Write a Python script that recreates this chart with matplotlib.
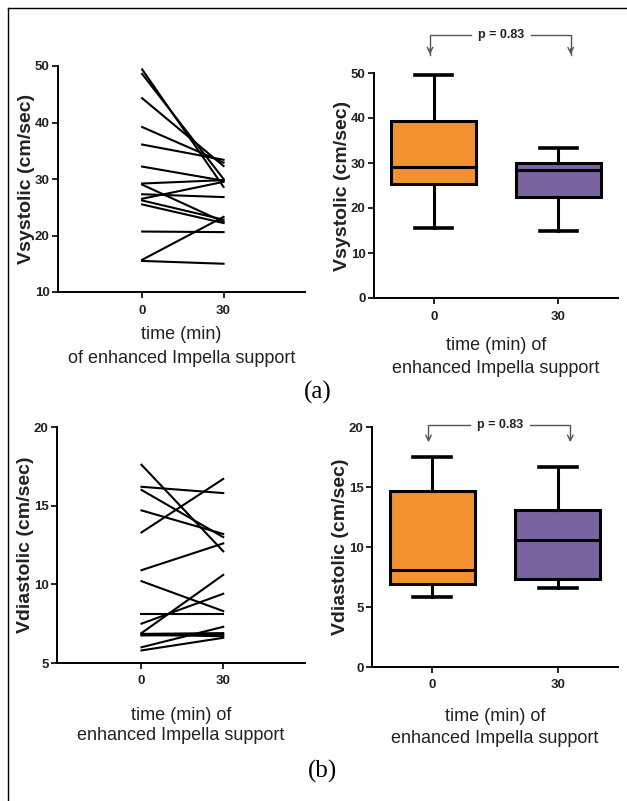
import matplotlib
matplotlib.use("Agg")
import matplotlib.pyplot as plt
from matplotlib.lines import Line2D

# paired values (0 min -> 30 min)
sys_0 = [49.4, 48.6, 44.3, 39.2, 36.1, 32.2, 29.2, 29.0, 27.3, 26.5, 26.2, 25.5, 20.7, 15.7, 15.5]
sys_30 = [28.6, 30.0, 32.3, 32.9, 33.4, 29.7, 29.8, 22.4, 26.8, 29.5, 22.8, 22.2, 20.6, 23.3, 15.0]

dia_0 = [17.6, 16.2, 16.0, 14.7, 13.3, 10.9, 10.2, 8.1, 7.5, 6.9, 6.85, 6.8, 6.75, 6.0, 5.8]
dia_30 = [12.1, 15.8, 13.0, 13.2, 16.7, 12.6, 8.3, 8.1, 9.4, 10.6, 6.9, 6.7, 6.8, 7.3, 6.6]

times = [0, 30]
time_labels = ["0", "30"]

# box plot statistics
sys_lo = [15.5, 15.0]
sys_q1 = [25.4, 22.5]
sys_med = [29.2, 28.5]
sys_q3 = [39.3, 30.1]
sys_hi = [49.5, 33.4]

dia_lo = [5.8, 6.6]
dia_q1 = [6.9, 7.3]
dia_med = [8.1, 10.6]
dia_q3 = [14.7, 13.1]
dia_hi = [17.5, 16.7]

box_colors = ["#F39130", "#7A64A0"]

plt.rcParams['font.family'] = ['Liberation Sans', 'DejaVu Sans']

fig = plt.figure(figsize=(6.27, 8.01), dpi=100)
W, H = 627, 801


def px_axes(l, t, r, b):
    return fig.add_axes([l / W, 1 - b / H, (r - l) / W, (b - t) / H])


def style(ax):
    for s in ["top", "right"]:
        ax.spines[s].set_visible(False)
    for s in ["left", "bottom"]:
        ax.spines[s].set_linewidth(1.4)
    ax.tick_params(direction="out", length=4, width=1.2, pad=2)
    ax.tick_params(axis="x", length=4, pad=5)
    for lab in ax.get_yticklabels() + ax.get_xticklabels():
        lab.set_fontweight("bold")
        lab.set_fontsize(9.5)
        lab.set_color("#222222")


def line_panel(ax, v0, v30, ylim, yticks, ylabel, xlabel, pad, ls):
    for a, b in zip(v0, v30):
        ax.plot(times, [a, b], color="black", lw=1.5)
    ax.set_xlim(-31, 60)
    ax.set_ylim(*ylim)
    ax.set_yticks(yticks)
    ax.set_xticks(times)
    ax.set_xticklabels(time_labels)
    style(ax)
    ax.set_ylabel(ylabel, fontsize=14, fontweight="bold", labelpad=0, color="#222222")
    ax.set_xlabel(xlabel, fontsize=13, labelpad=pad, linespacing=ls, color="#222222")


def box_panel(ax, lo, q1, med, q3, hi, ylim, yticks, ylabel, xlabel, pad, ls, p_y, tip_y):
    stats = []
    for i in range(2):
        stats.append(dict(whislo=lo[i], q1=q1[i], med=med[i], q3=q3[i], whishi=hi[i], fliers=[]))
    bp = ax.bxp(stats, positions=[1, 2], widths=0.68, patch_artist=True, showfliers=False,
                boxprops=dict(linewidth=2.2, edgecolor="black"),
                medianprops=dict(color="black", linewidth=2.2),
                whiskerprops=dict(linewidth=2.2),
                capprops=dict(linewidth=2.6), capwidths=0.3)
    for patch, c in zip(bp["boxes"], box_colors):
        patch.set_facecolor(c)
    ax.set_xlim(0.52, 2.48)
    ax.set_ylim(*ylim)
    ax.set_yticks(yticks)
    ax.set_xticks([1, 2])
    ax.set_xticklabels(time_labels)
    style(ax)
    ax.set_ylabel(ylabel, fontsize=14, fontweight="bold", labelpad=0, color="#222222")
    ax.set_xlabel(xlabel, fontsize=13, labelpad=pad, linespacing=ls, color="#222222")
    # p-value bracket
    g = "#555555"
    xl, xr = 0.97, 2.10
    ax.plot([xl, xl, 1.3], [tip_y + 0.6, p_y, p_y], color=g, lw=1, clip_on=False)
    ax.plot([1.78, xr, xr], [p_y, p_y, tip_y + 0.6], color=g, lw=1, clip_on=False)
    for x in (xl, xr):
        ax.annotate("", xy=(x, tip_y), xytext=(x, tip_y + (p_y - tip_y) * 0.5),
                    arrowprops=dict(arrowstyle="->", color=g, lw=1), annotation_clip=False)
    ax.text(1.54, p_y, "p = 0.83", ha="center", va="center", fontsize=9,
            fontweight="bold", color="#222222", clip_on=False)


ax1 = px_axes(58, 66, 305, 292)
line_panel(ax1, sys_0, sys_30, (10, 50), [10, 20, 30, 40, 50],
           "Vsystolic (cm/sec)", "time (min)\nof enhanced Impella support", 7, 1.5)

ax2 = px_axes(374, 73, 618, 298)
box_panel(ax2, sys_lo, sys_q1, sys_med, sys_q3, sys_hi, (0, 50), [0, 10, 20, 30, 40, 50],
          "Vsystolic (cm/sec)", "time (min) of\nenhanced Impella support", 10.5, 1.45, 58.5, 53.5)

ax3 = px_axes(57, 427, 305, 663)
line_panel(ax3, dia_0, dia_30, (5, 20), [5, 10, 15, 20],
           "Vdiastolic (cm/sec)", "time (min) of\nenhanced Impella support", 14, 1.2)

ax4 = px_axes(372, 427, 618, 667)
box_panel(ax4, dia_lo, dia_q1, dia_med, dia_q3, dia_hi, (0, 20), [0, 5, 10, 15, 20],
          "Vdiastolic (cm/sec)", "time (min) of\nenhanced Impella support", 12, 1.4, 20.2, 18.5)

fig.text(318 / W, 1 - 392 / H, "(a)", ha="center", va="center", fontsize=18, family="Liberation Serif")
fig.text(322 / W, 1 - 771 / H, "(b)", ha="center", va="center", fontsize=18, family="Liberation Serif")

# outer frame (left and top edges visible)
fig.add_artist(Line2D([8 / W, 8 / W], [0, 1 - 8 / H], transform=fig.transFigure, color="black", lw=1))
fig.add_artist(Line2D([8 / W, 1], [1 - 8 / H, 1 - 8 / H], transform=fig.transFigure, color="black", lw=1))

fig.savefig("out.png", dpi=100)
